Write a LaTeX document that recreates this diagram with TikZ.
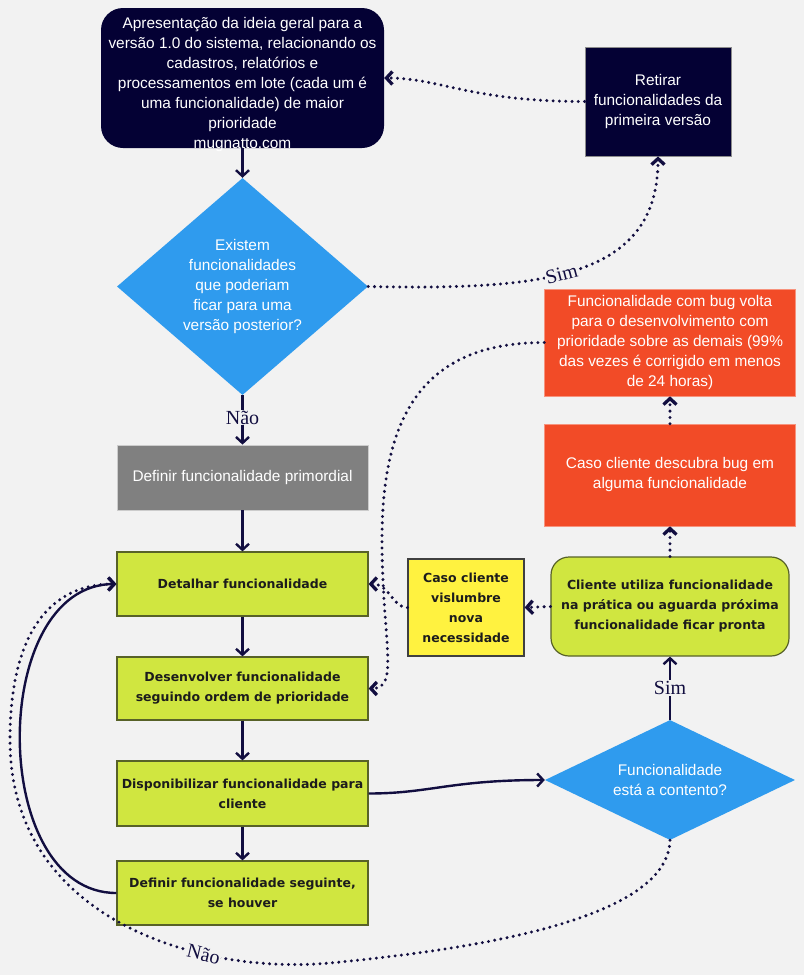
\documentclass[tikz,border=0pt]{standalone}
\usepackage{fontspec}
\setmainfont{Liberation Sans}
\newfontfamily\lblfont{Liberation Serif}
\newfontfamily\gfont{DejaVu Sans}
\usetikzlibrary{shapes.geometric,arrows.meta}
\definecolor{bg}{RGB}{242,242,242}
\definecolor{navy}{RGB}{4,1,52}
\definecolor{lnc}{RGB}{18,14,64}
\definecolor{dblue}{RGB}{47,155,238}
\definecolor{lgreen}{RGB}{208,230,64}
\definecolor{gborder}{RGB}{88,98,40}
\definecolor{yel}{RGB}{255,242,64}
\definecolor{orng}{RGB}{242,75,39}
\definecolor{gry}{RGB}{128,128,128}
\definecolor{tdark}{RGB}{28,28,28}
\begin{document}
\begin{tikzpicture}[x=1pt,y=-1pt,
  >={Straight Barb[length=6pt,width=13pt]},
  wtext/.style={text=white, align=center, font=\fontsize{15.4}{20}\selectfont, inner sep=0pt},
  navybox/.style={wtext, fill=navy},
  bluedia/.style={wtext, diamond, fill=dblue},
  orangebox/.style={wtext, fill=orng, draw=orng!60!white, line width=0.6pt},
  greybox/.style={wtext, fill=gry, draw=gry!40!white, line width=0.8pt},
  greenbox/.style={fill=lgreen, draw=gborder, line width=1.2pt, text=tdark, align=center, inner sep=0pt,
     font={\gfont\fontsize{12.5}{20}\selectfont\bfseries}},
  yelbox/.style={greenbox, fill=yel, draw=black!75},
  conn/.style={draw=lnc, line width=2.4pt, ->},
  dots/.style={draw=lnc, line width=3.3pt, line cap=round, dash pattern=on 0pt off 6.3pt, ->},
  lbl/.style={fill=bg, text=lnc, inner sep=1pt, font={\lblfont\fontsize{20}{22}\selectfont}}
]
\fill[bg] (0,0) rectangle (804,975);
\useasboundingbox (0,0) rectangle (804,975);

% nodes
\node[navybox, rounded corners=22pt, minimum width=283pt, minimum height=140pt] (A) at (242.5,78) {};
\node[wtext] (Atxt) at (242.5,85) {Apresentação da ideia geral para a\\versão 1.0 do sistema, relacionando os\\cadastros, relatórios e\\processamentos em lote (cada um é\\uma funcionalidade) de maior\\prioridade\\mugnatto.com};
\node[navybox, draw=black!45, line width=0.8pt, minimum width=146pt, minimum height=109pt] (R) at (658,101.5) {Retirar\\funcionalidades da\\primeira versão};
\node[bluedia, minimum width=251pt, minimum height=217pt] (D1) at (242.5,286.5) {Existem\\funcionalidades\\que poderiam\\ficar para uma\\versão posterior?};
\node[greybox, minimum width=251pt, minimum height=65pt] (P) at (242.5,477.5) {Definir funcionalidade primordial};
\node[greenbox, minimum width=251pt, minimum height=64pt] (Dt) at (242.5,584) {Detalhar funcionalidade};
\node[greenbox, minimum width=251pt, minimum height=63pt] (Dv) at (242.5,688.5) {Desenvolver funcionalidade\\seguindo ordem de prioridade};
\node[greenbox, minimum width=251pt, minimum height=65pt] (Ds) at (242.5,793.5) {Disponibilizar funcionalidade para\\cliente};
\node[greenbox, minimum width=251pt, minimum height=64pt] (Df) at (242.5,893) {Definir funcionalidade seguinte,\\se houver};
\node[bluedia, aspect=2, minimum width=250pt, minimum height=120pt] (D2) at (670,780) {Funcionalidade\\está a contento?};
\node[greenbox, rounded corners=18pt, minimum width=238pt, minimum height=99pt] (C) at (670,606.5) {Cliente utiliza funcionalidade\\na prática ou aguarda próxima\\funcionalidade ficar pronta};
\node[yelbox, minimum width=116pt, minimum height=97pt] (Y) at (466,607.5) {Caso cliente\\vislumbre\\nova\\necessidade};
\node[orangebox, minimum width=251pt, minimum height=102pt] (B1) at (670,475) {Caso cliente descubra bug em\\alguma funcionalidade};
\node[orangebox, minimum width=251pt, minimum height=107pt] (B2) at (670,342.5) {Funcionalidade com bug volta\\para o desenvolvimento com\\prioridade sobre as demais (99\%\\das vezes é corrigido em menos\\de 24 horas)};

% connectors
\draw[conn] (A.south) -- (D1.north);
\draw[dots] (R.west) .. controls (470,101.5) and (440,78) .. (A.east);
\draw[dots] (D1.east) .. controls (540,290) and (658,280) .. (R.south) node[lbl, sloped, pos=0.45] {Sim};
\draw[conn] (D1.south) -- node[lbl, pos=0.45] {Não} (P.north);
\draw[conn] (P.south) -- (Dt.north);
\draw[conn] (Dt.south) -- (Dv.north);
\draw[conn] (Dv.south) -- (Ds.north);
\draw[conn] (Ds.south) -- (Df.north);
\draw[conn] (Df.west) .. controls (-12,893) and (-12,584) .. (Dt.west);
\draw[conn] (Ds.east) .. controls (430,793.5) and (450,780) .. (D2.west);
\draw[conn] (D2.north) -- node[lbl] {Sim} (C.south);
\draw[dots] (C.west) -- (Y.east);
\draw[dots] (Y.west) .. controls (392,607.5) and (390,584) .. (Dt.east);
\draw[dots] (C.north) -- (B1.south);
\draw[dots] (B1.north) -- (B2.south);
\draw[dots] (B2.west) .. controls (420,342.5) and (382,420) .. (382,540) .. controls (382,640) and (400,688.5) .. (Dv.east);
\draw[dots] (D2.south) .. controls (668,910) and (520,945) .. (330,963)
   .. controls (200,975) and (10,920) .. (10,740) node[lbl, sloped, pos=0.3] {Não}
   .. controls (10,620) and (60,584) .. (Dt.west);
\end{tikzpicture}
\end{document}
